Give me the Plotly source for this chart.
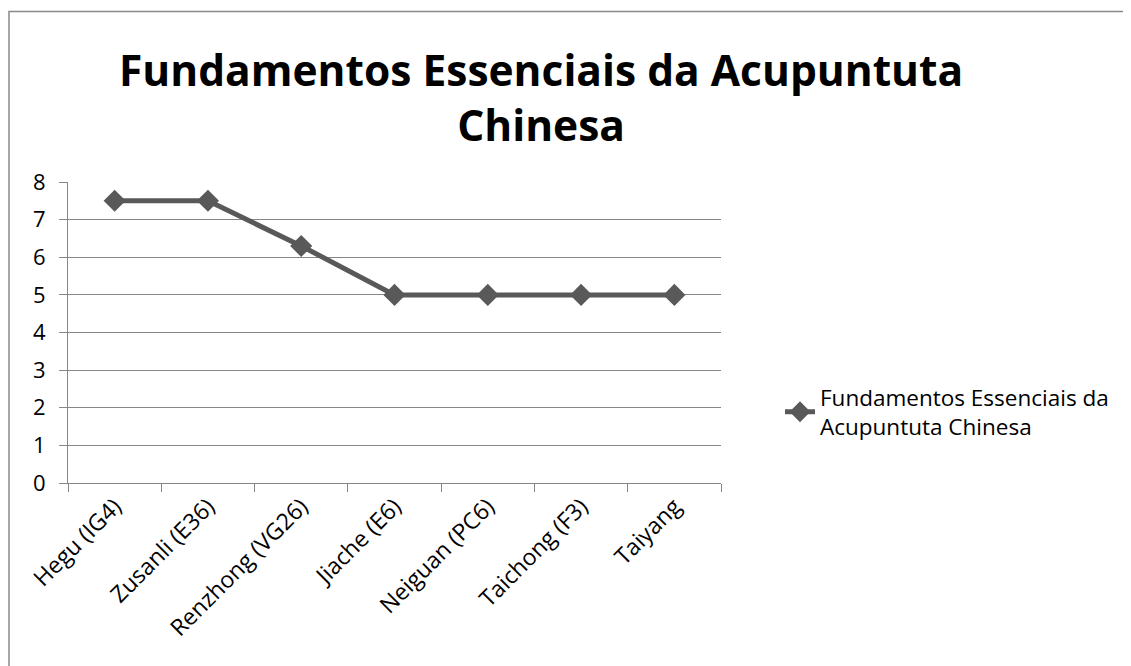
import plotly.graph_objects as go

categories = ["Hegu (IG4)", "Zusanli (E36)", "Renzhong (VG26)", "Jiache (E6)",
              "Neiguan (PC6)", "Taichong (F3)", "Taiyang"]
values = [7.5, 7.5, 6.3, 5, 5, 5, 5]
series_name = "Fundamentos Essenciais da<br>Acupuntuta Chinesa"
title_text = "<b>Fundamentos Essenciais da Acupuntuta<br>Chinesa</b>"

W, H = 1131, 666
OFF = 8  # page body margin
# plot area in window pixels
PX_L, PX_T, PX_R, PX_B = 68, 182, 721, 483
L, T = PX_L - OFF, PX_T - OFF
R = W - (PX_R - OFF)
B = H - (PX_B - OFF)
pw, ph = PX_R - PX_L, PX_B - PX_T

def px_x(px):
    return (px - PX_L) / pw

def px_y(py):
    return (PX_B - py) / ph

FONT = "Open Sans"
fig = go.Figure()
fig.add_trace(go.Scatter(
    x=categories, y=values, name=series_name, mode="lines+markers",
    line=dict(color="#595959", width=5),
    marker=dict(symbol="diamond", size=17, color="#595959"),
))

fig.update_layout(
    width=W, height=H,
    margin=dict(l=L, r=R, t=T, b=B, autoexpand=False),
    paper_bgcolor="white", plot_bgcolor="white",
    font=dict(family=FONT, size=22, color="black"),
    showlegend=True,
    legend=dict(x=px_x(780), y=px_y(412), xanchor="left", yanchor="middle",
                font=dict(size=22.5), bgcolor="rgba(0,0,0,0)", itemwidth=30),
    xaxis=dict(type="category", showgrid=False, showline=True, linecolor="#868686",
               linewidth=1, ticks="outside", tickson="boundaries", ticklen=8,
               tickcolor="#868686", tickangle=-45, range=[-0.5, 6.5],
               tickfont=dict(size=23)),
    yaxis=dict(range=[0, 8], dtick=1, showgrid=True, gridcolor="#868686", gridwidth=1,
               showline=True, linecolor="#868686", linewidth=1, ticks="outside",
               ticklen=8, tickcolor="#868686", zeroline=False, ticklabelstandoff=9),
)

fig.add_annotation(text=title_text, xref="paper", yref="paper",
                   x=px_x(541), y=px_y(97), xanchor="center", yanchor="middle",
                   showarrow=False, font=dict(family=FONT, size=42.5, color="black"))

fig.add_shape(type="rect", xref="paper", yref="paper",
              x0=px_x(9), x1=px_x(1200), y0=px_y(720), y1=px_y(11.5),
              line=dict(color="#888888", width=1.5), layer="below")

fig.write_html("out.html")
